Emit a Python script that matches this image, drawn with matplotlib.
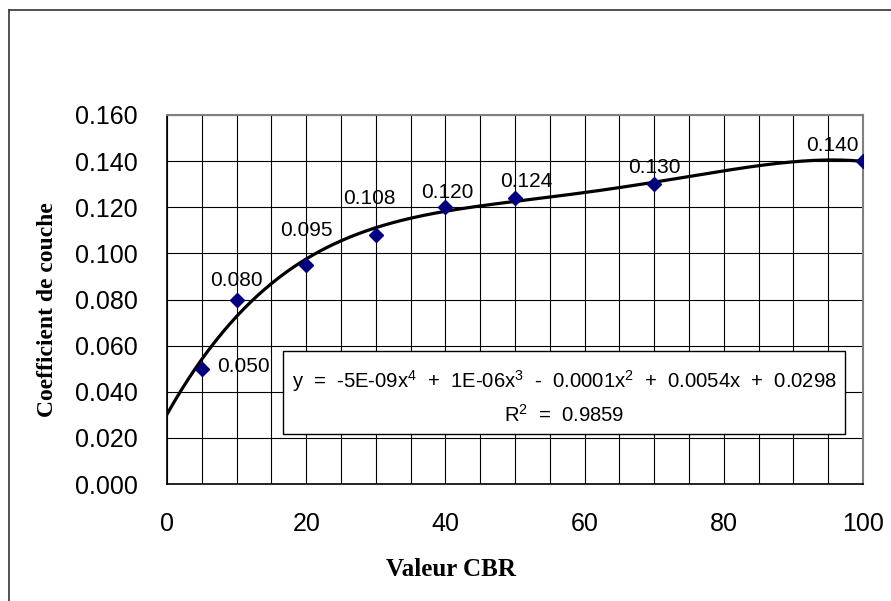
import numpy as np
import matplotlib
matplotlib.use("Agg")
import matplotlib.pyplot as plt
from matplotlib.lines import Line2D
from matplotlib.patches import Rectangle

# Data
cbr = [5, 10, 20, 30, 40, 50, 70, 100]
coef = [0.050, 0.080, 0.095, 0.108, 0.120, 0.124, 0.130, 0.140]
labels = ["0.050", "0.080", "0.095", "0.108", "0.120", "0.124", "0.130", "0.140"]
equation = "y  =  -5E-09x$^{4}$  +  1E-06x$^{3}$  -  0.0001x$^{2}$  +  0.0054x  +  0.0298"
r2_text = "R$^{2}$  =  0.9859"
x_ticks = [0, 20, 40, 60, 80, 100]
y_ticks = [0.000, 0.020, 0.040, 0.060, 0.080, 0.100, 0.120, 0.140, 0.160]

# label offsets in pixels (dx, dy)
label_offsets = [(42, 2), (0, 19), (0, 34), (-6, 36), (2, 15), (11, 17), (0, 17), (-31, 16)]

plt.rcParams['font.family'] = ['Liberation Sans', 'DejaVu Sans']
plt.rcParams['mathtext.fontset'] = 'custom'
plt.rcParams['mathtext.rm'] = 'Liberation Sans'
plt.rcParams['mathtext.it'] = 'Liberation Sans'

fig = plt.figure(figsize=(8.91, 6.01), dpi=100)
ax = fig.add_axes([167/891, 1-484/601, (863-167)/891, (484-115)/601])

# outer border
fig.add_artist(Line2D([9/891, 9/891], [0, 1-10/601], transform=fig.transFigure, color='#333333', lw=1.2))
fig.add_artist(Line2D([9/891, 1], [1-10/601, 1-10/601], transform=fig.transFigure, color='#333333', lw=1.2))

ax.set_xlim(0, 100)
ax.set_ylim(0, 0.16)
ax.set_xticks(x_ticks)
ax.set_xticks(np.arange(0, 101, 5), minor=True)
ax.set_yticks(y_ticks)
ax.set_xticklabels([str(v) for v in x_ticks])
ax.set_yticklabels([f"{v:.3f}" for v in y_ticks])
ax.grid(True, which='both', color='black', lw=0.8)
ax.set_axisbelow(True)
ax.tick_params(axis='both', which='both', length=0, labelsize=18)
ax.tick_params(axis='y', pad=21)
ax.tick_params(axis='x', pad=20)

for s in ['top', 'right']:
    ax.spines[s].set_color('#808080')
    ax.spines[s].set_linewidth(1.5)
for s in ['left', 'bottom']:
    ax.spines[s].set_color('black')
    ax.spines[s].set_linewidth(1.2)

# trendline (4th order polynomial fit)
p = np.polyfit(cbr, coef, 4)
xs = np.linspace(0, 100, 300)
ax.plot(xs, np.polyval(p, xs), color='black', lw=2.3, zorder=3)

ax.plot(cbr, coef, linestyle='none', marker='D', markersize=7, color='#000080', zorder=4)

for x, y, t, (dx, dy) in zip(cbr, coef, labels, label_offsets):
    ax.annotate(t, (x, y), xytext=(dx * 0.72, dy * 0.72), textcoords='offset points',
                ha='center', va='center', fontsize=15, zorder=5)

# equation box
bx0, bx1, by0, by1 = 283, 845, 351, 434
def px2data(px, py):
    return (px - 167) / (863 - 167) * 100, (484 - py) / (484 - 115) * 0.16
x0, y1 = px2data(bx0, by0)
x1, y0 = px2data(bx1, by1)
ax.add_patch(Rectangle((x0, y0), x1 - x0, y1 - y0, facecolor='white', edgecolor='black', lw=1.0, zorder=5))
ex, ey = px2data(564, 381)
ax.text(ex, ey, equation, ha='center', va='center', fontsize=14.6, zorder=6)
rx, ry = px2data(564, 415)
ax.text(rx, ry, r2_text, ha='center', va='center', fontsize=14.6, zorder=6)

ax.set_xlabel("Valeur CBR", family='Liberation Serif', fontweight='bold', fontsize=18)
ax.set_ylabel("Coefficient de couche", family='Liberation Serif', fontweight='bold', fontsize=17)
ax.xaxis.set_label_coords(451/891, 1 - 558/601, transform=fig.transFigure)
ax.yaxis.set_label_coords(58/891, 1 - 310/601, transform=fig.transFigure)

fig.savefig("out.png", dpi=100)
